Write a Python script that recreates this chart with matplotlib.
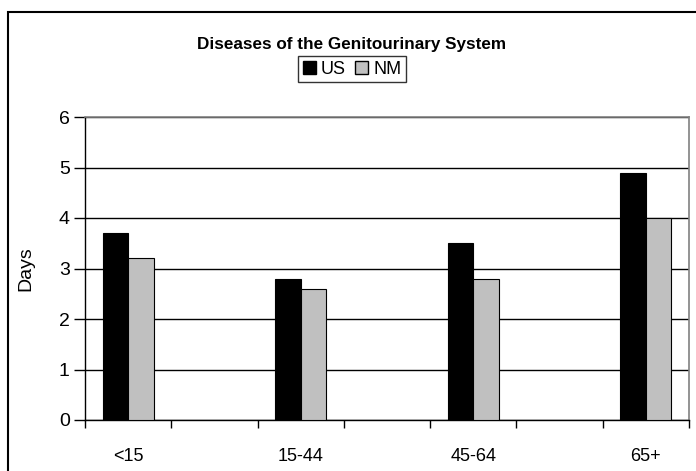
import matplotlib
matplotlib.use("Agg")
import matplotlib.pyplot as plt
from matplotlib.patches import Patch, Rectangle

plt.rcParams['font.family'] = ['Liberation Sans', 'DejaVu Sans']

title = "Diseases of the Genitourinary System"
age_groups = ['<15', '15-44', '45-64', '65+']
us_days = [3.7, 2.8, 3.5, 4.9]
nm_days = [3.2, 2.6, 2.8, 4.0]
series_names = ['US', 'NM']
y_ticks = [0, 1, 2, 3, 4, 5, 6]

W, H = 696, 471
fig = plt.figure(figsize=(W / 100, H / 100), dpi=100)
L, R, T, B = 85, 689, 117, 420
ax = fig.add_axes([L / W, 1 - B / H, (R - L) / W, (B - T) / H])

# 7 category slots, groups in slots 0,2,4,6
pos = [2 * i for i in range(len(age_groups))]
bw = 0.295
ax.bar([p - bw / 2 for p in pos], us_days, width=bw, color='black',
       edgecolor='black', linewidth=0.8, zorder=3)
ax.bar([p + bw / 2 for p in pos], nm_days, width=bw, color='#C0C0C0',
       edgecolor='black', linewidth=0.8, zorder=3)

ax.set_xlim(-0.5, 6.5)
ax.set_ylim(0, 6)
ax.set_yticks(y_ticks)
ax.set_yticklabels([str(v) for v in y_ticks], fontsize=14)
ax.yaxis.grid(True, color='black', linewidth=1.0, zorder=0)
ax.set_axisbelow(True)

ax.set_xticks([k + 0.5 for k in range(-1, 7)])
ax.set_xticklabels([])
ax.set_xticks(pos, minor=True)
ax.set_xticklabels(age_groups, minor=True, fontsize=13)
ax.tick_params(axis='x', which='major', direction='out', length=6, width=1)
ax.tick_params(axis='x', which='minor', length=0, pad=20)
ax.tick_params(axis='y', direction='out', length=8, width=1, pad=3)

for s in ['top', 'right']:
    ax.spines[s].set_color('#808080')
    ax.spines[s].set_linewidth(1.2)
for s in ['left', 'bottom']:
    ax.spines[s].set_color('black')
    ax.spines[s].set_linewidth(1.0)

fig.text(26 / W, 1 - 269 / H, 'Days', rotation=90, ha='center', va='center', fontsize=14)
fig.text(352 / W, 1 - 44 / H, title, ha='center', va='center', fontsize=12.3,
         fontweight='bold')

handles = [Patch(facecolor='black', edgecolor='black'),
           Patch(facecolor='#C0C0C0', edgecolor='black')]
leg = fig.legend(handles, series_names, loc='center', ncol=2,
                 bbox_to_anchor=(352 / W, 1 - 69 / H), fontsize=13,
                 frameon=True, fancybox=False, handlelength=0.75,
                 handleheight=0.75, handletextpad=0.25, columnspacing=0.5,
                 borderpad=0.25, borderaxespad=0)
leg.get_frame().set_edgecolor('black')
leg.get_frame().set_linewidth(1.0)

fig.patches.append(Rectangle((8 / W, -0.1), 1.2, 1 - 12 / H + 0.1,
                             transform=fig.transFigure, fill=False,
                             edgecolor='black', linewidth=1.5))

fig.savefig('out.png', dpi=100)
